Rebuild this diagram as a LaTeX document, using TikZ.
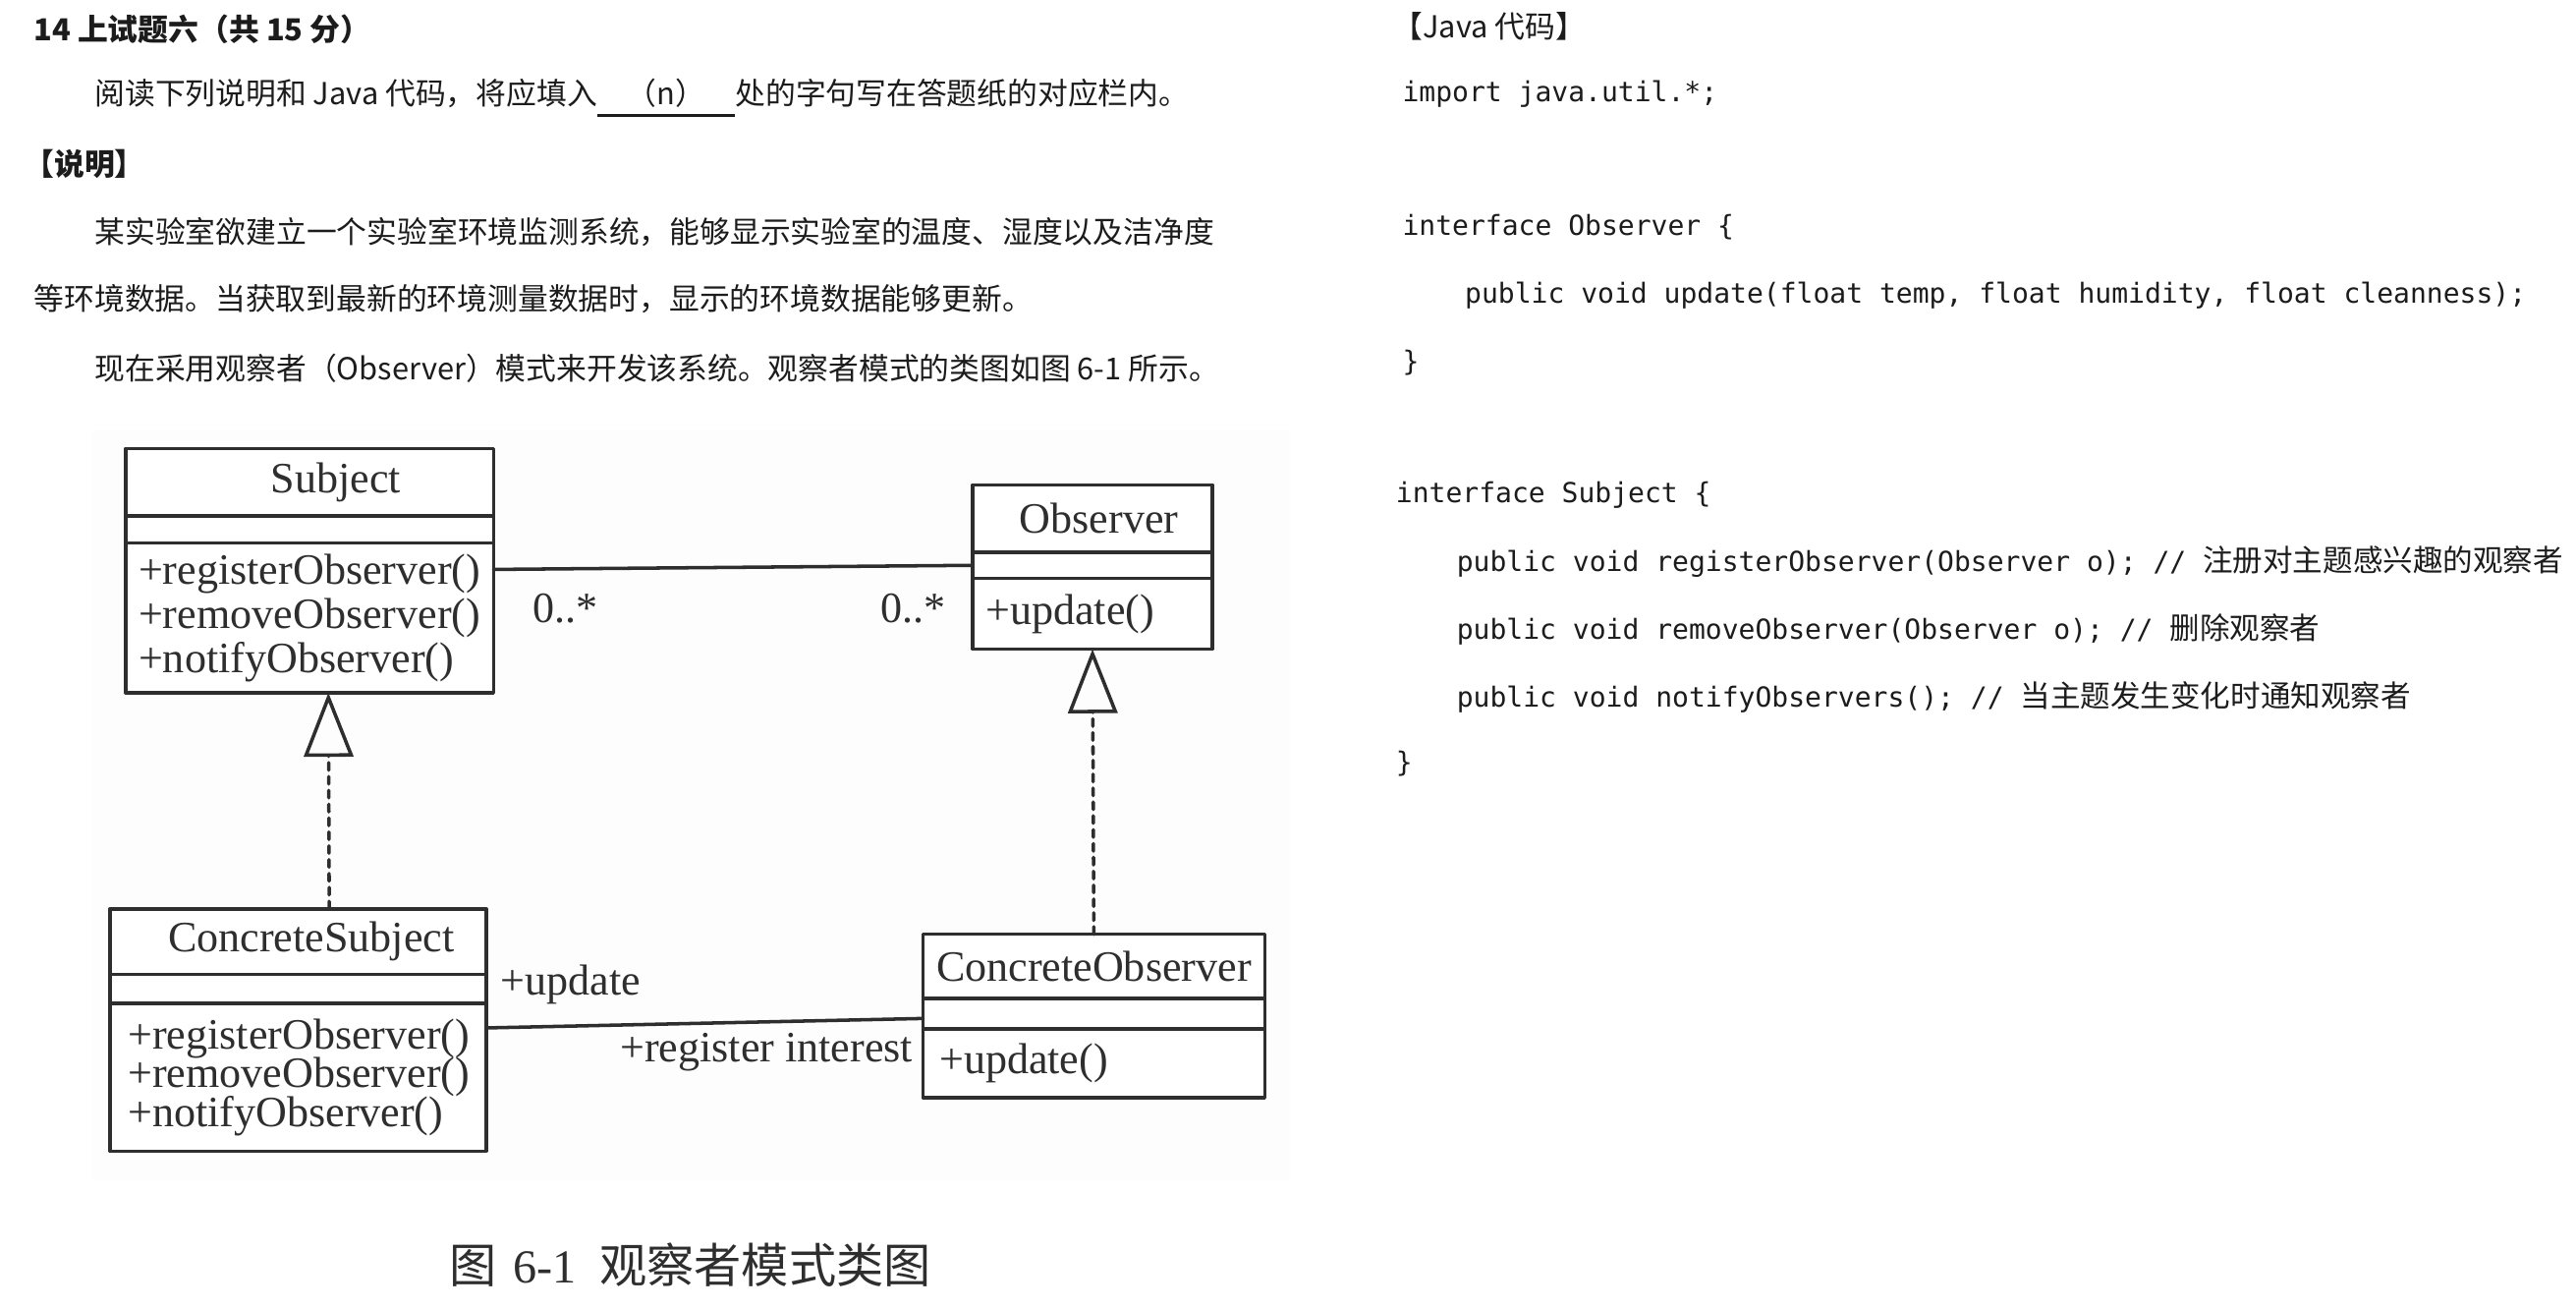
\documentclass[tikz,border=0pt]{standalone}
\usepackage{fontspec}
\setmainfont{Noto Sans CJK SC}
\newfontfamily\codefont{DejaVu Sans Mono}
\newfontfamily\umlfont{Liberation Serif}
\newfontfamily\cjkfont{Noto Sans CJK SC}
\usepackage{tikz}
\usetikzlibrary{arrows.meta,positioning}
\definecolor{inkgray}{HTML}{1C1C1C}
\definecolor{umlgray}{HTML}{2E2E2E}
\definecolor{figbg}{HTML}{FDFDFD}
\newcommand{\bodysize}{\fontsize{5.24}{6}\selectfont}
\newcommand{\codesize}{\fontsize{4.77}{6}\selectfont}
\newcommand{\cmtsize}{\fontsize{5.2}{6}\selectfont}
\newcommand{\umlsize}{\fontsize{7.5}{7.65}\selectfont\lineskiplimit=-5pt\lineskip=0pt}
\newcommand{\umltight}{\fontsize{7.5}{6.7}\selectfont\lineskiplimit=-5pt\lineskip=0pt}
\newcommand{\capsize}{\fontsize{8.2}{9}\selectfont}

\begin{document}
\begin{tikzpicture}[
		x=1cm,y=1cm,
		line cap=round,
		line join=round,
		bodytext/.style={anchor=west, inner sep=0pt, font=\bodysize, text=inkgray},
		codeline/.style={anchor=west, inner sep=0pt, font=\codefont\codesize, text=inkgray},
		classname/.style={draw=umlgray, line width=0.6pt, fill=white, inner sep=0pt, outer sep=0pt, minimum height=0.41cm, font=\umlfont\umlsize, text=umlgray},
		classattr/.style={draw=umlgray, line width=0.6pt, fill=white, inner sep=0pt, outer sep=0pt, minimum height=0.165cm},
		classops/.style={draw=umlgray, line width=0.6pt, fill=white, inner xsep=0.08cm, inner ysep=0pt, outer sep=0pt, align=left, font=\umlfont\umlsize, text=umlgray},
		umllabel/.style={inner sep=0pt, font=\umlfont\umlsize, text=umlgray},
		assoc/.style={draw=umlgray, line width=0.6pt},
		realize/.style={draw=umlgray, line width=0.6pt, dash pattern=on 1.3pt off 1.1pt, -{Triangle[open, length=0.39cm, width=0.30cm]}}
	]
	\fill[white] (0,0) rectangle (15.68,-7.96);
	\useasboundingbox (0,0) rectangle (15.68,-7.96);
	
	% Question text
	\node[bodytext, font=\bodysize\bfseries] (qtitle) at (0.20,-0.18) {14 上试题六（共 15 分）};
	\node[bodytext] (qread) at (0.57,-0.60) {阅读下列说明和 Java 代码，将应填入\underline{\makebox[0.84cm]{（n）}}处的字句写在答题纸的对应栏内。};
	\node[bodytext, font=\bodysize\bfseries] (qhead) at (0.14,-1.00) {【说明】};
	\node[bodytext] (qdesc1) at (0.57,-1.41) {某实验室欲建立一个实验室环境监测系统，能够显示实验室的温度、湿度以及洁净度};
	\node[bodytext] (qdesc2) at (0.20,-1.82) {等环境数据。当获取到最新的环境测量数据时，显示的环境数据能够更新。};
	\node[bodytext] (qdesc3) at (0.57,-2.24) {现在采用观察者（Observer）模式来开发该系统。观察者模式的类图如图 6-1 所示。};
	
	% Java code
	\node[bodytext] (codehead) at (8.47,-0.16) {【Java 代码】};
	\node[codeline] (cimport) at (8.53,-0.57) {import java.util.*;};
	\node[codeline] (cobsif) at (8.53,-1.38) {interface Observer \{};
	\node[codeline] (cupdate) at (8.91,-1.80) {public void update(float temp, float humidity, float cleanness);};
	\node[codeline] (cobsend) at (8.53,-2.21) {\}};
	\node[codeline] (csubif) at (8.49,-3.01) {interface Subject \{};
	\node[codeline] (cregister) at (8.86,-3.42) {public void registerObserver(Observer o); // {\cjkfont\cmtsize 注册对主题感兴趣的观察者}};
	\node[codeline] (cremove) at (8.86,-3.83) {public void removeObserver(Observer o); // {\cjkfont\cmtsize 删除观察者}};
	\node[codeline] (cnotify) at (8.86,-4.24) {public void notifyObservers(); // {\cjkfont\cmtsize 当主题发生变化时通知观察者}};
	\node[codeline] (csubend) at (8.49,-4.65) {\}};
	
	% Class diagram
	\fill[figbg] (0.56,-2.62) rectangle (7.85,-7.18);
	
	% Subject
	\node[classname, minimum width=2.24cm, anchor=north west] (subjname) at (0.764,-2.73) {\hspace*{0.32cm}Subject};
	\node[classattr, minimum width=2.24cm, below=0pt of subjname] (subjattr) {};
	\node[classops, text width=2.08cm, minimum height=0.91cm, below=0pt of subjattr] (subjops) {+registerObserver()\\+removeObserver()\\+notifyObserver()};
	
	% Observer
	\node[classname, minimum width=1.46cm, anchor=north west] (obsname) at (5.92,-2.95) {\hspace*{0.08cm}Observer};
	\node[classattr, minimum width=1.46cm, minimum height=0.16cm, below=0pt of obsname] (obsattr) {};
	\node[classops, text width=1.30cm, minimum height=0.43cm, below=0pt of obsattr] (obsops) {+update()};
	
	% ConcreteSubject
	\node[classname, minimum width=2.29cm, minimum height=0.40cm, anchor=north west] (csubjname) at (0.669,-5.53) {\hspace*{0.16cm}ConcreteSubject};
	\node[classattr, minimum width=2.29cm, minimum height=0.175cm, below=0pt of csubjname] (csubjattr) {};
	\node[classops, inner xsep=0.11cm, text width=2.07cm, minimum height=0.90cm, font=\umlfont\umltight, below=0pt of csubjattr] (csubjops) {+registerObserver()\\+removeObserver()\\+notifyObserver()};
	
	% ConcreteObserver
	\node[classname, minimum width=2.08cm, minimum height=0.39cm, anchor=north west] (cobsname) at (5.618,-5.685) {ConcreteObserver};
	\node[classattr, minimum width=2.08cm, minimum height=0.185cm, below=0pt of cobsname] (cobsattr) {};
	\node[classops, inner xsep=0.10cm, text width=1.88cm, minimum height=0.42cm, below=0pt of cobsattr] (cobsops) {+update()};
	
	% Connectors
	\draw[assoc] ([yshift=-0.16cm]subjops.north east) -- (obsattr.west);
	\draw[assoc] ([yshift=-0.15cm]csubjops.north east) -- ([yshift=-0.03cm]cobsattr.west);
	\draw[realize] ([xshift=0.19cm]csubjname.north) -- ([xshift=0.115cm]subjops.south);
	\draw[realize] (cobsname.north) -- (obsops.south);
	
	% Labels
	\node[umllabel] (multsubj) at (3.44,-3.70) {0..*};
	\node[umllabel] (multobs) at (5.56,-3.70) {0..*};
	\node[umllabel] (lblupdate) at (3.475,-5.99) {+update};
	\node[umllabel] (lblregister) at (4.665,-6.40) {+register interest};
	\node[anchor=west, inner sep=0pt, font=\capsize, text=umlgray] (figcaption) at (2.73,-7.70) {图\hspace{0.10cm}{\umlfont 6-1}\hspace{0.14cm}观察者模式类图};
	
\end{tikzpicture}
\end{document}
